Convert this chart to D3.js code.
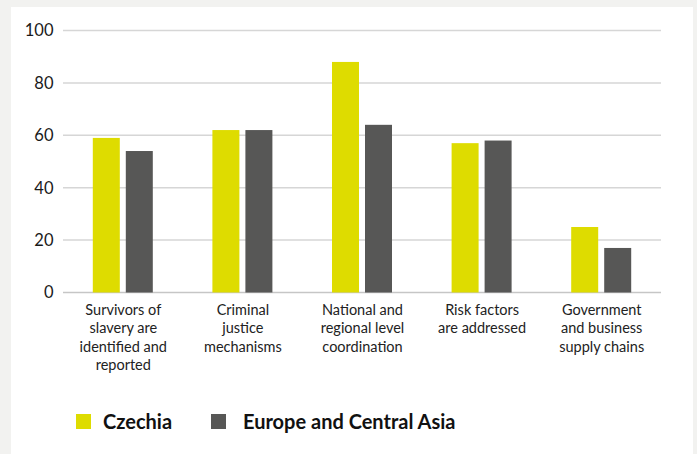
<!DOCTYPE html>
<html><head><meta charset="utf-8">
<script src="https://cdn.jsdelivr.net/npm/d3@7"></script>
<style>
html,body{margin:0;padding:0;background:#f2f2f0;}
svg{display:block;}
</style></head>
<body>
<script>
const categories = [
  ["Survivors of","slavery are","identified and","reported"],
  ["Criminal","justice","mechanisms"],
  ["National and","regional level","coordination"],
  ["Risk factors","are addressed"],
  ["Government","and business","supply chains"]
];
const seriesNames = ["Czechia","Europe and Central Asia"];
const czechia = [59, 62, 88, 57, 25];
const europe = [54, 62, 64, 58, 17];
const yTicks = [0,20,40,60,80,100];
const colors = ["#dedc00","#575756"];

const W=697,H=454;
const svg=d3.select("body").append("svg").attr("width",W).attr("height",H);
svg.append("rect").attr("x",11).attr("y",7).attr("width",682).attr("height",H-7).attr("fill","#fff");

const font="Lato, 'Noto Sans', sans-serif";
const x0=d3.scaleBand().domain(d3.range(categories.length)).range([63,661]);
const x1=d3.scaleBand().domain([0,1]).range([0,60]).paddingInner(6/33);
const y=d3.scaleLinear().domain([0,100]).range([292.5,30.5]);

const g=svg.append("g");
g.selectAll("line.grid").data(yTicks).join("line")
  .attr("x1",63).attr("x2",661).attr("y1",d=>y(d)).attr("y2",d=>y(d))
  .attr("stroke",d=>d===0?"#c6c6c6":"#d6d6d6").attr("stroke-width",1.5);
g.selectAll("text.yt").data(yTicks).join("text")
  .attr("x",53.5).attr("y",d=>y(d)).attr("dy","0.36em").attr("text-anchor","end")
  .attr("font-family",font).attr("font-size",16.5).attr("fill","#1a1a1a").text(d=>d);

const data=[czechia,europe];
const groups=g.selectAll("g.grp").data(categories).join("g")
  .attr("transform",(d,i)=>`translate(${x0(i)+x0.bandwidth()/2-30},0)`);
groups.selectAll("rect").data((d,i)=>data.map((s,k)=>({k,v:s[i]}))).join("rect")
  .attr("x",d=>x1(d.k)).attr("width",x1.bandwidth())
  .attr("y",d=>y(d.v)).attr("height",d=>y(0)-y(d.v)).attr("fill",d=>colors[d.k]);

categories.forEach((lines,i)=>{
  const t=g.append("text").attr("text-anchor","middle").attr("font-family",font)
    .attr("font-size",14.5).attr("fill","#222")
    .attr("x",x0(i)+x0.bandwidth()/2+0.5).attr("y",315);
  lines.forEach((l,j)=>t.append("tspan").attr("x",x0(i)+x0.bandwidth()/2+0.5).attr("dy",j?18.3:0).text(l));
});

const legSq=[76,211], legTx=[103,243];
seriesNames.forEach((n,k)=>{
  svg.append("rect").attr("x",legSq[k]).attr("y",414).attr("width",15).attr("height",15).attr("fill",colors[k]);
  svg.append("text").attr("x",legTx[k]).attr("y",429)
    .attr("font-family",font).attr("font-weight","bold").attr("font-size",20).attr("fill","#111").text(n);
});
</script>
</body></html>
